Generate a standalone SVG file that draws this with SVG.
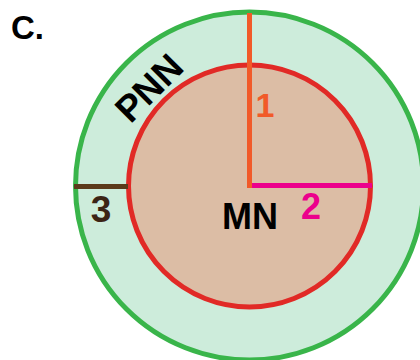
<svg xmlns="http://www.w3.org/2000/svg" width="420" height="360" viewBox="0 0 420 360">
<style>
text{font-family:"Liberation Sans",Arial,sans-serif;font-weight:bold}
.ln{stroke-width:5;fill:none}
</style>
<rect width="420" height="360" fill="#ffffff"/>
<text x="11" y="39" font-size="33" fill="#000">C.</text>
<g id="PNN">
<circle cx="249.5" cy="186" r="174" fill="#cdecdb" stroke="#39b54a" stroke-width="5"/>
<text transform="translate(158,97) rotate(-45)" text-anchor="middle" font-size="37" fill="#000">PNN</text>
</g>
<g id="MN">
<circle cx="249.5" cy="186" r="121" fill="#dcbda5" stroke="#e12a26" stroke-width="5"/>
<text x="250" y="229" text-anchor="middle" font-size="36" fill="#000">MN</text>
</g>
<g id="connectors">
<line class="ln" x1="249.5" y1="13" x2="249.5" y2="188" stroke="#f15a29"/>
<line class="ln" x1="252" y1="185.5" x2="372" y2="185.5" stroke="#ec008c"/>
<line class="ln" x1="74" y1="186.5" x2="128" y2="186.5" stroke="#5b3a1a"/>
</g>
<g id="labels">
<text x="265" y="117" text-anchor="middle" font-size="34" fill="#f15a29">1</text>
<text x="311" y="219" text-anchor="middle" font-size="36" fill="#ec008c">2</text>
<text x="101" y="222" text-anchor="middle" font-size="37" fill="#3c2415">3</text>
</g>
</svg>
